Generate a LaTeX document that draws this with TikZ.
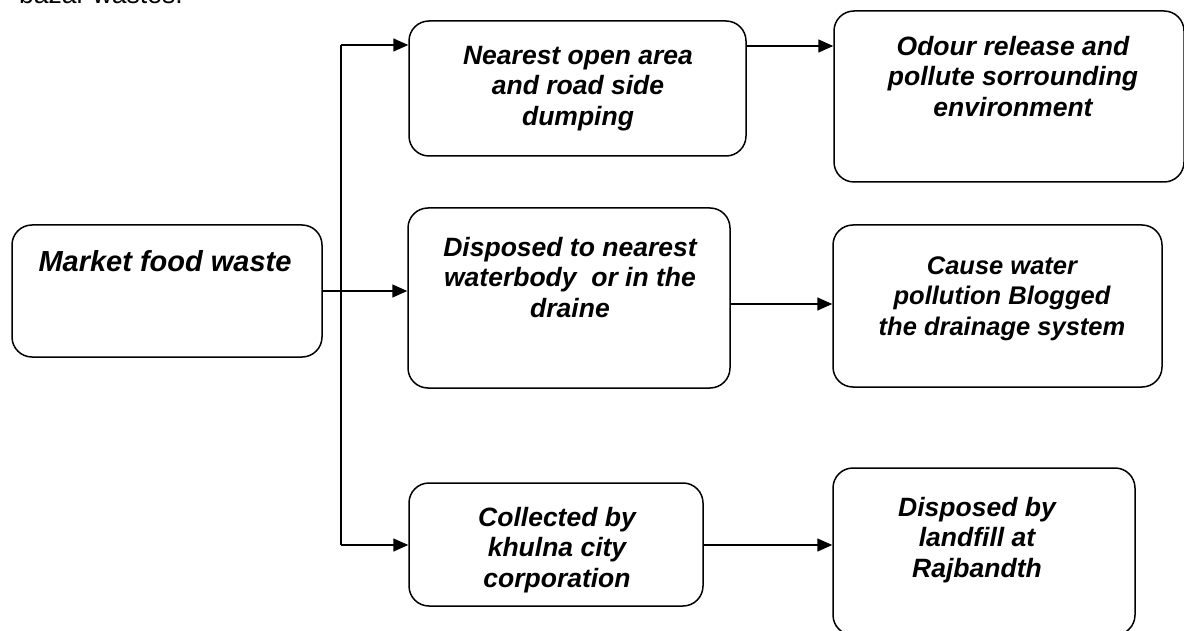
\documentclass[tikz,border=0pt]{standalone}
\usepackage{fontspec}
\setmainfont{Liberation Sans}
\usetikzlibrary{arrows.meta}
\begin{document}
\begin{tikzpicture}[x=1pt,y=-1pt,
  box/.style={draw,line width=1.5pt,rounded corners=20pt,inner sep=0pt,
    minimum width=#1},
  boxtext/.style={anchor=north,inner sep=0pt,align=center,
    font=\fontsize{26.5}{30.5}\selectfont\bfseries\itshape},
  link/.style={line width=1.6pt,-{Triangle[length=15pt,width=13pt]}},
  trunk/.style={line width=1.6pt}]
\useasboundingbox (0,0) rectangle (1184,631);

% heading line running in from the text above
\node[anchor=base west,inner sep=0pt,font=\fontsize{26.5}{30}\selectfont] (head) at (19,3.5) {bazar wastes.};

% boxes
\node[box=310pt,minimum height=132pt] (market) at (167,291) {};
\node[box=337pt,minimum height=135pt] (open) at (577.5,88.5) {};
\node[box=322pt,minimum height=180pt] (water) at (569,298) {};
\node[box=294pt,minimum height=123pt] (kcc) at (556,544.5) {};
\node[box=350pt,minimum height=171pt] (odour) at (1009,96.5) {};
\node[box=329pt,minimum height=162pt] (drain) at (997.5,306) {};
\node[box=302pt,minimum height=167pt] (landfill) at (984,551.5) {};

% box texts
\node[boxtext,font=\fontsize{29}{33}\selectfont\bfseries\itshape] (tmarket) at (165,250) {Market food waste};
\node[boxtext] (topen) at (578,46) {Nearest open area\\and road side\\dumping};
\node[boxtext] (twater) at (570,237) {Disposed to nearest\\waterbody\ \ or in the\\draine};
\begin{scope}
  \clip (kcc.south west) rectangle ([yshift=18pt]kcc.north east);
  \node[boxtext] (tkcc) at (557,507) {Collected by\\khulna city\\corporation};
\end{scope}
\node[boxtext] (todour) at (1013,36) {Odour release and\\pollute sorrounding\\environment};
\node[boxtext,font=\fontsize{25.5}{30.5}\selectfont\bfseries\itshape] (tdrain) at (1002,256) {Cause water\\pollution Blogged\\the drainage system};
\node[boxtext] (tlandfill) at (977,497) {Disposed by\\landfill at\\Rajbandth};

% branching from the market box
\coordinate (jtop) at (341,45);
\coordinate (jbot) at (341,545);
\draw[trunk] (jtop) -- (jbot);
\draw[link] (jtop) -- (open.west |- jtop);
\draw[link] (jbot) -- (kcc.west |- jbot);
\draw[link] (market.east |- 0,291) -- (water.west |- 0,291);

% consequences
\draw[link] (open.east |- 0,46) -- (odour.west |- 0,46);
\draw[link] (water.east |- 0,304) -- (drain.west |- 0,304);
\draw[link] (kcc.east |- 0,545) -- (landfill.west |- 0,545);
\end{tikzpicture}
\end{document}
